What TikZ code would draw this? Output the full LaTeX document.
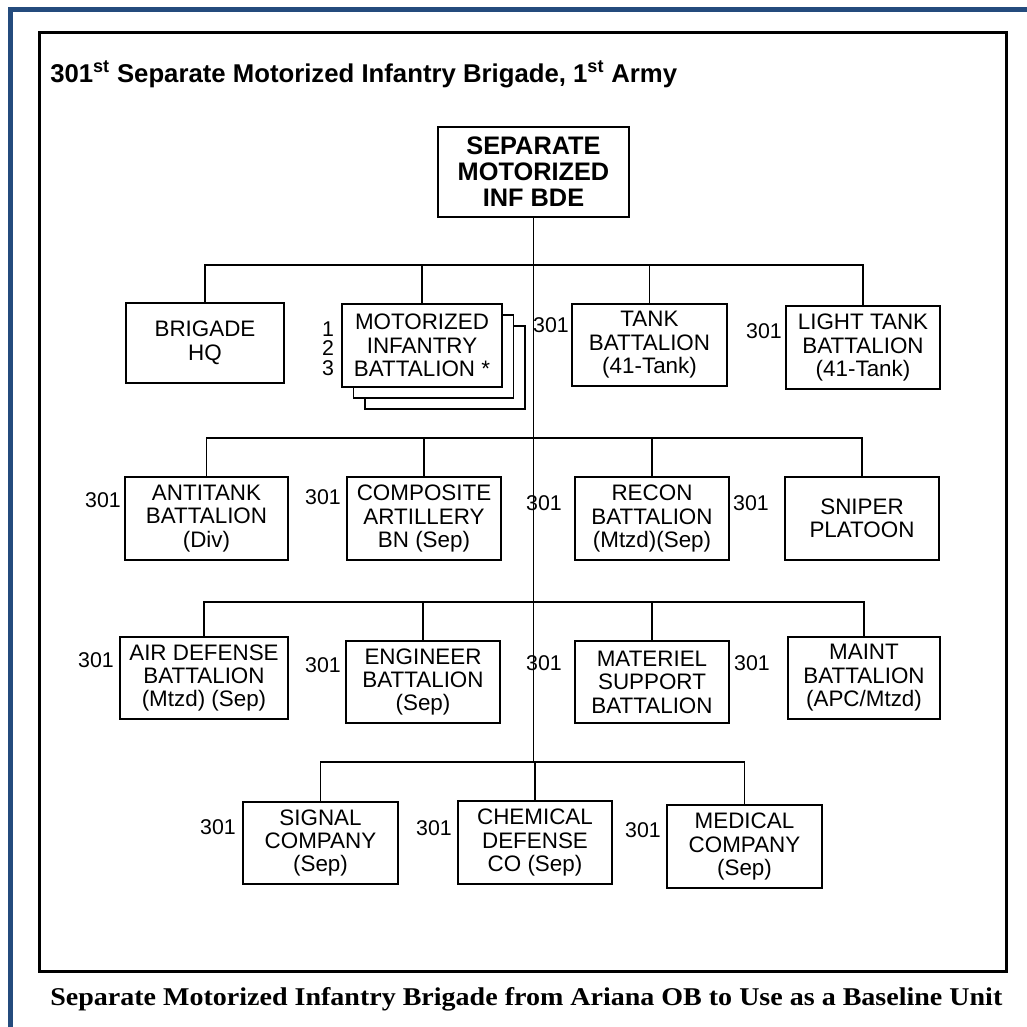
\documentclass[tikz,border=0pt]{standalone}
\usepackage{fontspec}
\newfontfamily\arial{Liberation Sans}
\newfontfamily\capserif{Liberation Serif}
\definecolor{frameblue}{RGB}{36,75,125}
\begin{document}
\begin{tikzpicture}[x=0.75pt,y=-0.75pt,
  box/.style={draw,line width=0.8pt,inner sep=0pt,align=center,fill=white,
    font=\arial\fontsize{16.8}{17.6}\selectfont},
  sz/.style 2 args={minimum width=#1*0.75pt,minimum height=#2*0.75pt},
  num/.style={inner sep=0pt,font=\arial\fontsize{16}{17}\selectfont},
  conn/.style={line width=0.8pt}]
\useasboundingbox (0,0) rectangle (1027,1027);
% outer blue frame
\fill[frameblue] (8,7) rectangle (1027,12);
\fill[frameblue] (8,7) rectangle (12.5,1027);
% inner black frame
\draw[line width=2.3pt] (39.5,32.5) rectangle (1006.5,971.5);
% title
\node[anchor=base west,inner sep=0pt,font=\arial\bfseries\fontsize{19.3}{20}\selectfont] (title) at (50,83) {301\textsuperscript{st} Separate Motorized Infantry Brigade, 1\textsuperscript{st} Army};
% top box
\node[box,sz={191}{90},font=\arial\bfseries\fontsize{19}{19.5}\selectfont] (top) at (533.5,172) {SEPARATE\\MOTORIZED\\INF BDE};
% row 1
\node[box,sz={158}{80}] (hq) at (205,343) {BRIGADE\\HQ};
\node[box,sz={160}{83}] (mot3) at (445,367.5) {};
\node[box,sz={160}{83}] (mot2) at (433.5,356.5) {};
\node[box,sz={160}{83}] (mot) at (422,345.5) {MOTORIZED\\INFANTRY\\BATTALION *};
\node[box,sz={155}{82}] (tank) at (649.5,345) {TANK\\BATTALION\\(41-Tank)};
\node[box,sz={154}{83}] (light) at (863,347.5) {LIGHT TANK\\BATTALION\\(41-Tank)};
% row 2
\node[box,sz={163}{83}] (at) at (206.5,518.5) {ANTITANK\\BATTALION\\(Div)};
\node[box,sz={154}{83}] (art) at (424,518.5) {COMPOSITE\\ARTILLERY\\BN (Sep)};
\node[box,sz={154}{83}] (recon) at (652,518.5) {RECON\\BATTALION\\(Mtzd)(Sep)};
\node[box,sz={154}{83}] (sniper) at (862,518.5) {SNIPER\\PLATOON};
% row 3
\node[box,sz={168}{82}] (ad) at (204,678) {AIR DEFENSE\\BATTALION\\(Mtzd) (Sep)};
\node[box,sz={154}{82}] (eng) at (423,682) {ENGINEER\\BATTALION\\(Sep)};
\node[box,sz={154}{82}] (mat) at (652,682) {MATERIEL\\SUPPORT\\BATTALION};
\node[box,sz={152}{82}] (maint) at (864,678) {MAINT\\BATTALION\\(APC/Mtzd)};
% row 4
\node[box,sz={155}{82}] (sig) at (320.5,843) {SIGNAL\\COMPANY\\(Sep)};
\node[box,sz={154}{83}] (chem) at (535,842.5) {CHEMICAL\\DEFENSE\\CO (Sep)};
\node[box,sz={155}{83}] (med) at (744.5,846.5) {MEDICAL\\COMPANY\\(Sep)};
% bus coordinates
\coordinate (b1) at (533.5,265);
\coordinate (b2) at (533.5,438);
\coordinate (b3) at (533.5,602);
\coordinate (b4) at (533.5,762);
% connectors
\draw[conn] (top.south) -- (b4) -| (chem.north);
\draw[conn] (hq.north) |- (b1);
\draw[conn] (mot.north) |- (b1);
\draw[conn] (tank.north) |- (b1);
\draw[conn] (light.north) |- (b1);
\draw[conn] (at.north) |- (b2);
\draw[conn] (art.north) |- (b2);
\draw[conn] (recon.north) |- (b2);
\draw[conn] (sniper.north) |- (b2);
\draw[conn] (ad.north) |- (b3);
\draw[conn] (eng.north) |- (b3);
\draw[conn] (mat.north) |- (b3);
\draw[conn] (maint.north) |- (b3);
\draw[conn] (sig.north) |- (b4);
\draw[conn] (med.north) |- (b4);
% battalion numbers
\node[num,align=center,font=\arial\fontsize{16}{14.5}\selectfont] (nums) at (328,348.5) {1\\2\\3};
% 301 labels
\node[num] (l1) at (551,325) {301};
\node[num] (l2) at (764,331) {301};
\node[num] (l3) at (103,500) {301};
\node[num] (l4) at (323,497) {301};
\node[num] (l5) at (544,503) {301};
\node[num] (l6) at (751,503) {301};
\node[num] (l7) at (96,660) {301};
\node[num] (l8) at (323,665) {301};
\node[num] (l9) at (544,663) {301};
\node[num] (l10) at (752,663) {301};
\node[num] (l11) at (218,827) {301};
\node[num] (l12) at (434,828) {301};
\node[num] (l13) at (643,830) {301};
% caption
\node[anchor=base west,inner sep=0pt] (cap) at (50,1005) {\resizebox{714pt}{13.5pt}{\capserif\bfseries Separate Motorized Infantry Brigade from Ariana OB to Use as a Baseline Unit}};
\end{tikzpicture}
\end{document}
